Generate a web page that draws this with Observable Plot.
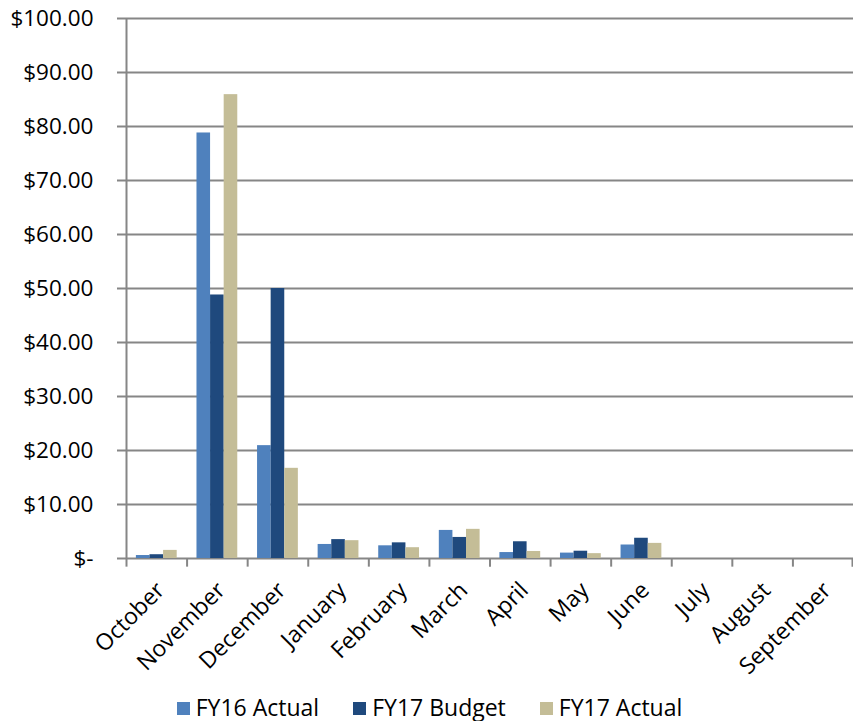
<!DOCTYPE html>
<html>
<head>
<meta charset="utf-8">
<script src="https://cdn.jsdelivr.net/npm/d3@7"></script>
<script src="https://cdn.jsdelivr.net/npm/@observablehq/plot@0.6"></script>
<style>
  body { margin: 0; background: #fff; font-family: "Open Sans", sans-serif; overflow: hidden; }
  #chart svg { display: block; }
  #legend { height: 35px; box-sizing: border-box; padding-top: 7px; display: flex; justify-content: center; align-items: center; gap: 34px; font-size: 23px; line-height: 25px; color: #000; padding-left: 6px; }
  #legend span.sw { display: inline-block; width: 13px; height: 13px; margin-right: 6px; vertical-align: middle; position: relative; top: -1px; }
</style>
</head>
<body>
<div id="chart"></div>
<div id="legend"></div>
<script>
const months = ["October","November","December","January","February","March","April","May","June","July","August","September"];
const series = ["FY16 Actual","FY17 Budget","FY17 Actual"];
const colors = ["#4F81BD","#1F497D","#C4BD97"];
const fy16Actual = [0.55, 78.8, 20.9, 2.6, 2.35, 5.2, 1.1, 1.0, 2.5, 0, 0, 0];
const fy17Budget = [0.7, 48.8, 50.0, 3.5, 2.9, 3.9, 3.1, 1.35, 3.75, 0, 0, 0];
const fy17Actual = [1.5, 85.9, 16.7, 3.3, 2.0, 5.4, 1.3, 0.9, 2.8, 0, 0, 0];
const yTicks = [0,10,20,30,40,50,60,70,80,90,100];

const W = 853, H = 686, ML = 126, MR = 0, MT = 18, MB = 128;
const bw = (W - ML - MR) / months.length;
const barW = 13.6;
const allVals = [fy16Actual, fy17Budget, fy17Actual];
const rows = [];
allVals.forEach((arr, s) => arr.forEach((v, i) => rows.push({month: months[i], series: series[s], s, value: v})));

const barMarks = series.map((name, s) => {
  const left = bw / 2 + (s - 1.5) * barW;
  return Plot.barY(rows.filter(d => d.s === s && d.value > 0), {
    x: "month", y: "value", fill: colors[s],
    insetLeft: left, insetRight: bw - left - barW
  });
});

const fmt = v => v === 0 ? "$-" : "$" + v.toFixed(2);

const chart = Plot.plot({
  width: W, height: H,
  marginLeft: ML, marginRight: MR, marginTop: MT, marginBottom: MB,
  style: {fontFamily: "Open Sans, sans-serif", fontSize: "22px", color: "#000", background: "#fff"},
  x: {type: "band", domain: months, padding: 0, round: false, label: null},
  y: {domain: [0, 100], label: null},
  marks: [
    Plot.ruleY(yTicks, {stroke: "#868686", strokeWidth: 2, insetLeft: -9}),
    ...barMarks,
    Plot.ruleX([months[0]], {x: d => d, dx: -bw / 2, y1: 0, y2: 100, stroke: "#868686", strokeWidth: 2}),
    Plot.ruleX(months, {x: d => d, dx: -bw / 2, y1: 0, y2: -1.6, stroke: "#868686", strokeWidth: 2}),
    Plot.ruleX([months[months.length - 1]], {x: d => d, dx: bw / 2 - 1, y1: 0, y2: -1.6, stroke: "#868686", strokeWidth: 2}),
    Plot.axisY({ticks: yTicks, tickFormat: fmt, tickSize: 0, tickPadding: 33, fontSize: 22.5, fill: "#000"}),
    Plot.axisX({tickSize: 0, tickRotate: -45, tickPadding: 28, textAnchor: "end", dx: 4, fontSize: 23, fill: "#000"})
  ]
});
document.getElementById("chart").appendChild(chart);

const legend = document.getElementById("legend");
series.forEach((name, s) => {
  const item = document.createElement("div");
  item.innerHTML = `<span class="sw" style="background:${colors[s]}"></span>${name}`;
  legend.appendChild(item);
});
</script>
</body>
</html>
